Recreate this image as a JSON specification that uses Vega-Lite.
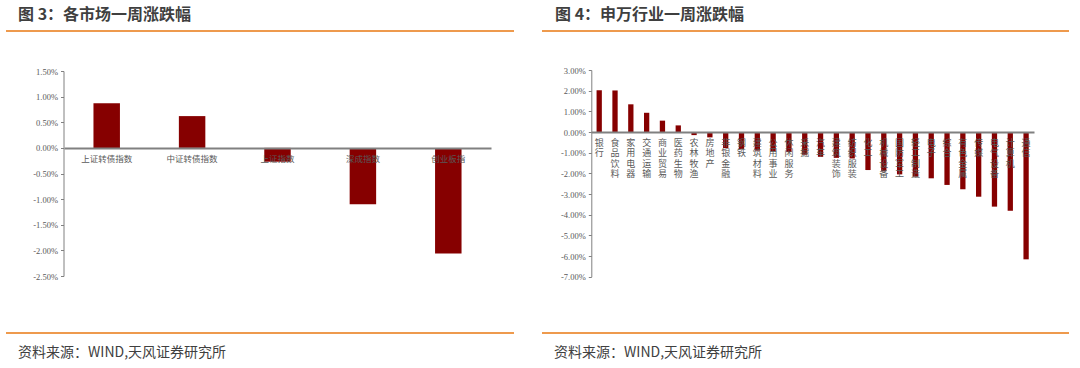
{
  "$schema": "https://vega.github.io/schema/vega-lite/v6.json",
  "background": "white",
  "padding": {"left": 5, "top": 6, "right": 0, "bottom": 0},
  "autosize": {"type": "pad"},
  "spacing": 26,
  "config": {
    "view": {"stroke": null},
    "axis": {"grid": false, "title": null}
  },
  "datasets": {
    "markets": [
      {"name": "上证转债指数", "v": 0.87},
      {"name": "中证转债指数", "v": 0.62},
      {"name": "上证指数", "v": -0.27},
      {"name": "深成指数", "v": -1.10},
      {"name": "创业板指", "v": -2.06}
    ],
    "industries": [
      {"name": "银行", "v": 2.02},
      {"name": "食品饮料", "v": 2.01},
      {"name": "家用电器", "v": 1.34},
      {"name": "交通运输", "v": 0.93},
      {"name": "商业贸易", "v": 0.55},
      {"name": "医药生物", "v": 0.32},
      {"name": "农林牧渔", "v": -0.15},
      {"name": "房地产", "v": -0.26},
      {"name": "非银金融", "v": -0.78},
      {"name": "钢铁", "v": -0.82},
      {"name": "建筑材料", "v": -0.9},
      {"name": "公用事业", "v": -0.93},
      {"name": "休闲服务", "v": -0.97},
      {"name": "采掘", "v": -1.1},
      {"name": "汽车", "v": -1.2},
      {"name": "建筑装饰", "v": -1.25},
      {"name": "纺织服装", "v": -1.28},
      {"name": "化工", "v": -1.84},
      {"name": "机械设备", "v": -1.9},
      {"name": "国防军工", "v": -2.05},
      {"name": "轻工制造", "v": -2.16},
      {"name": "电子", "v": -2.24},
      {"name": "综合", "v": -2.56},
      {"name": "有色金属", "v": -2.77},
      {"name": "传媒", "v": -3.13},
      {"name": "电气设备", "v": -3.61},
      {"name": "计算机", "v": -3.81},
      {"name": "通信", "v": -6.16}
    ]
  },
  "hconcat": [
    {
      "title": {"text": "资料来源：WIND,天风证券研究所", "orient": "bottom", "anchor": "start", "frame": "group", "font": "Noto Sans CJK SC", "fontSize": 14, "fontWeight": "normal", "color": "#404040", "offset": 12, "dx": 12},
      "vconcat": [
        {
          "width": 508,
          "height": 302,
          "title": {"text": "图 3：各市场一周涨跌幅", "anchor": "start", "frame": "group", "font": "Noto Sans CJK SC", "fontSize": 16, "fontWeight": "bold", "color": "#3f3f3f", "offset": 7, "dx": 12},
          "data": {"name": "markets"},
          "layer": [
            {
              "mark": {"type": "bar", "color": "#860000"},
              "encoding": {
                "x": {
                  "field": "name", "type": "nominal", "sort": null,
                  "scale": {"range": [58, 485], "paddingInner": 0.69, "paddingOuter": 0.345},
                  "axis": {"orient": "bottom", "offset": -185.1, "ticks": false, "domainColor": "#808080", "domainWidth": 2, "labelAngle": 0, "labelFont": "Noto Sans CJK SC", "labelFontSize": 8.5, "labelColor": "#595959", "labelPadding": 7, "labelOverlap": false, "labelLimit": 0, "zindex": 1}
                },
                "y": {
                  "field": "v", "type": "quantitative",
                  "scale": {"domain": [-2.5, 1.5], "range": [245, 40], "nice": false, "zero": false},
                  "axis": {"values": [-2.5, -2, -1.5, -1, -0.5, 0, 0.5, 1, 1.5], "tickCount": 20, "offset": -57.5, "labelOverlap": false, "labelExpr": "replace(format(datum.value, '.2f'), '−', '-') + '%'", "labelFont": "Liberation Sans Narrow", "labelFontSize": 8.5, "labelColor": "#595959", "domainColor": "#808080", "tickColor": "#808080", "tickSize": 3, "labelPadding": 3}
                }
              }
            },
            {
              "mark": {"type": "rule", "color": "#EE9A4D", "strokeWidth": 2},
              "encoding": {"y": {"datum": 2.2805, "type": "quantitative"}}
            },
            {
              "mark": {"type": "rule", "color": "#EE9A4D", "strokeWidth": 2},
              "encoding": {"y": {"datum": -3.612, "type": "quantitative"}}
            }
          ]
        }
      ]
    },
    {
      "title": {"text": "资料来源：WIND,天风证券研究所", "orient": "bottom", "anchor": "start", "frame": "group", "font": "Noto Sans CJK SC", "fontSize": 14, "fontWeight": "normal", "color": "#404040", "offset": 12, "dx": 12},
      "vconcat": [
        {
          "width": 527,
          "height": 302,
          "title": {"text": "图 4：申万行业一周涨跌幅", "anchor": "start", "frame": "group", "font": "Noto Sans CJK SC", "fontSize": 16, "fontWeight": "bold", "color": "#3f3f3f", "offset": 7, "dx": 13},
          "data": {"name": "industries"},
          "layer": [
            {
              "mark": {"type": "bar", "color": "#860000"},
              "encoding": {
                "x": {
                  "field": "name", "type": "nominal", "sort": null,
                  "scale": {"range": [49.3, 492], "paddingInner": 0.665, "paddingOuter": 0.3325},
                  "axis": {"orient": "bottom", "offset": -201, "ticks": false, "domainColor": "#808080", "domainWidth": 2, "labelAngle": 0, "labelExpr": "split(datum.label, '')", "labelFont": "Noto Sans CJK SC", "labelFontSize": 9, "labelLineHeight": 10.5, "labelBaseline": "top", "labelColor": "#595959", "labelPadding": 6, "labelOverlap": false, "labelLimit": 0, "zindex": 1}
                },
                "y": {
                  "field": "v", "type": "quantitative",
                  "scale": {"domain": [-7, 3], "range": [245.7, 39], "nice": false, "zero": false},
                  "axis": {"values": [-7, -6, -5, -4, -3, -2, -1, 0, 1, 2, 3], "tickCount": 20, "offset": -49.3, "labelOverlap": false, "labelExpr": "replace(format(datum.value, '.2f'), '−', '-') + '%'", "labelFont": "Liberation Sans Narrow", "labelFontSize": 8.5, "labelColor": "#595959", "domainColor": "#808080", "tickColor": "#808080", "tickSize": 3, "labelPadding": 3}
                }
              }
            },
            {
              "mark": {"type": "rule", "color": "#EE9A4D", "strokeWidth": 2},
              "encoding": {"y": {"datum": 4.887, "type": "quantitative"}}
            },
            {
              "mark": {"type": "rule", "color": "#EE9A4D", "strokeWidth": 2},
              "encoding": {"y": {"datum": -9.724, "type": "quantitative"}}
            }
          ]
        }
      ]
    }
  ]
}
